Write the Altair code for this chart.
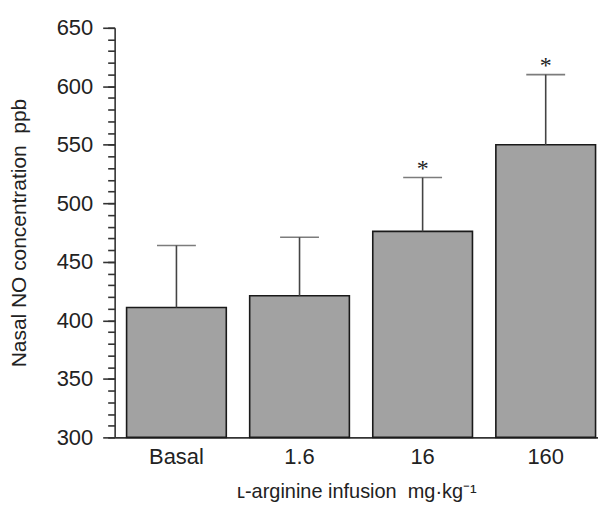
import altair as alt
import pandas as pd

doses = ["Basal", "1.6", "16", "160"]
means = [411, 421, 476, 550]
err_top = [464, 471, 522, 610]
sig = ["", "", "*", "*"]

df = pd.DataFrame({"dose": doses, "mean": means, "err": err_top, "sig": sig})

FONT = "Liberation Sans, Arial, sans-serif"

xenc = alt.X(
    "dose:N",
    sort=doses,
    scale=alt.Scale(paddingInner=0.19, paddingOuter=0.0585, align=0.83),
    axis=alt.Axis(
        title="ʟ-arginine infusion\u00a0\u00a0mg·kg⁻¹",
        ticks=False,
        labelAngle=0,
        labelFontSize=22,
        labelFont=FONT,
        labelColor="#222",
        labelPadding=9,
        domainColor="#333",
        domainWidth=1.6,
        titleFont=FONT,
        titleFontSize=20,
        titleFontWeight="normal",
        titleColor="#222",
        titlePadding=14,
    ),
)
xplain = alt.X("dose:N", sort=doses)

yscale = alt.Scale(domain=[300, 650], nice=False, zero=False)

major_axis = alt.Axis(
    title="Nasal NO concentration\u00a0\u00a0ppb",
    values=[300, 350, 400, 450, 500, 550, 600, 650],
    tickSize=12,
    tickWidth=1.6,
    tickColor="#333",
    domainColor="#333",
    domainWidth=1.6,
    labelFont=FONT,
    labelFontSize=22,
    labelColor="#222",
    labelPadding=10,
    titleFont=FONT,
    titleFontSize=21,
    titleFontWeight="normal",
    titleColor="#222",
    titlePadding=27,
    grid=False,
)
minor_axis = alt.Axis(
    title=None,
    orient="left",
    values=list(range(300, 651, 10)),
    tickSize=7,
    tickWidth=1.6,
    tickColor="#333",
    labels=False,
    domain=False,
    grid=False,
)

bars = alt.Chart(df).mark_bar(
    fill="#a2a2a2", stroke="#1a1a1a", strokeWidth=1.6
).encode(
    x=xenc,
    y=alt.Y("mean:Q", scale=yscale, axis=major_axis),
    y2=alt.datum(300),
)

rules = alt.Chart(df).mark_rule(color="#444", strokeWidth=1.6).encode(
    x=xplain,
    y=alt.Y("mean:Q", scale=yscale, axis=minor_axis),
    y2="err:Q",
)

caps = alt.Chart(df).mark_tick(color="#444", thickness=1.6, size=39).encode(
    x=xplain,
    y=alt.Y("err:Q", scale=yscale, axis=None),
)

stars = alt.Chart(df).mark_text(
    font="Liberation Serif", fontSize=24, baseline="alphabetic", dy=-2, color="#222"
).encode(
    x=xplain,
    y=alt.Y("err:Q", scale=yscale, axis=None),
    text="sig:N",
)

chart = (
    alt.layer(bars, rules, caps, stars)
    .resolve_axis(y="independent")
    .properties(
        width=485,
        height=411,
        autosize=alt.AutoSizeParams(type="none"),
        padding={"left": 107, "top": 19, "right": 0, "bottom": 66},
        background="white",
    )
    .configure_view(stroke=None)
)

chart.save("out.html", embed_options={"renderer": "svg", "actions": False})
